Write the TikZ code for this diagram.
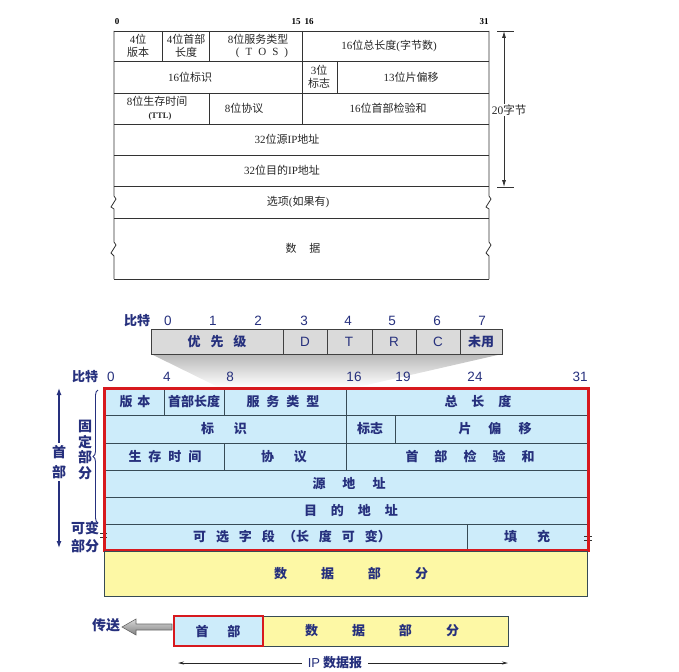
\documentclass[tikz,border=0pt]{standalone}
\usepackage{fontspec}
\setmainfont{Liberation Serif}
\newfontfamily\zhf{Noto Sans CJK SC}
\newfontfamily\arialf{Liberation Sans}
\newcommand\zh[1]{{\zhf #1}}
\newcommand\hs[1]{\hspace{#1pt}}
\usetikzlibrary{decorations.pathreplacing,arrows.meta}
\definecolor{navy}{RGB}{38,48,125}
\definecolor{lblue}{RGB}{205,236,250}
\definecolor{tline}{RGB}{55,75,85}
\definecolor{lyellow}{RGB}{253,248,165}
\definecolor{hred}{RGB}{215,25,30}
\definecolor{gbox}{RGB}{218,218,218}
\tikzset{
  tt/.style={font=\fontsize{11}{12.5}\selectfont, align=center, inner sep=0pt, text=black!85},
  tbit/.style={font=\bfseries\fontsize{9}{10}\selectfont, inner sep=0pt},
  tl/.style={line width=0.8pt, black!80},
  bt/.style={font=\zhf\bfseries\fontsize{13}{15}\selectfont, text=navy, inner sep=0pt},
  bbit/.style={font=\arialf\fontsize{13.5}{15}\selectfont, text=navy, inner sep=0pt},
  bl/.style={line width=0.8pt, tline},
}
\begin{document}
\begin{tikzpicture}[x=1pt,y=-1pt]
\useasboundingbox (0,0) rectangle (679,671);
% ================= TOP DIAGRAM =================
\node[tbit] (b0) at (117,22) {0};
\node[tbit] (b15) at (296,22) {15};
\node[tbit] (b16) at (309,22) {16};
\node[tbit] (b31) at (484,22) {31};
% horizontal lines
\foreach \yy in {31,61,93,124,155,186,218,279} \draw[tl] (114,\yy) -- (489,\yy);
% outer verticals with break marks
\draw[tl] (114,31) -- (114,196) -- (116,199) -- (111,207) -- (114,209) -- (114,242) -- (116,245) -- (111,253) -- (114,256) -- (114,279);
\draw[tl] (489,31) -- (489,196) -- (491,199) -- (486,207) -- (489,209) -- (489,242) -- (491,245) -- (486,253) -- (489,256) -- (489,279);
% inner verticals
\draw[tl] (162,31) -- (162,61);
\draw[tl] (209,31) -- (209,61);
\draw[tl] (302,31) -- (302,124);
\draw[tl] (337,61) -- (337,93);
\draw[tl] (209,93) -- (209,124);
% texts
\node[tt] (t1) at (138,46) {4\zh{位}\\\zh{版本}};
\node[tt] (t2) at (186,46) {4\zh{位首部}\\\zh{长度}};
\node[tt] (t3) at (258,46) {8\zh{位服务类型}\\\hs{8}(\hs{6}T\hs{6}O\hs{6}S\hs{6})};
\node[tt] (t4) at (389,46) {16\zh{位总长度}(\zh{字节数})};
\node[tt] (t5) at (190,77) {16\zh{位标识}};
\node[tt] (t6) at (319,77) {3\zh{位}\\\zh{标志}};
\node[tt] (t7) at (411,77) {13\zh{位片偏移}};
\node[tt] (t8) at (157,108) {8\zh{位生存时间}\\\hs{6}\bfseries\fontsize{8.5}{10}\selectfont(TTL)};
\node[tt] (t9) at (244,108) {8\zh{位协议}};
\node[tt] (t10) at (388,108) {16\zh{位首部检验和}};
\node[tt] (t11) at (287,139) {32\zh{位源}IP\zh{地址}};
\node[tt] (t12) at (282,170) {32\zh{位目的}IP\zh{地址}};
\node[tt] (t13) at (298,202) {\zh{选项}(\zh{如果有})};
\node[tt] (t14) at (303,248) {\zh{数}\hs{13}\zh{据}};
% 20 bytes dimension
\coordinate (d1) at (504,31);
\coordinate (d2) at (504,187);
\draw[tl] (497,31) -- (514,31);
\draw[tl] (497,187) -- (514,187);
\draw[tl, {Latex[length=7pt,width=4pt]}-{Latex[length=7pt,width=4pt]}] (d1) -- (d2);
\node[tt, fill=white, inner sep=1pt, font=\fontsize{11.5}{13}\selectfont] (t20) at (509,110) {20\zh{字节}};
% ================= BOTTOM DIAGRAM =================
% TOS bit row
\node[bt] (bit1) at (137,321) {比特};
\foreach \xx/\lab in {168/0,213/1,258/2,304/3,348/4,392/5,437/6,482/7}
  \node[bbit] at (\xx,321) {\lab};
% shadow
\shade[top color=black!28, bottom color=white] (151,354) -- (502,354) -- (358,387) -- (218,387) -- cycle;
% gray box
\draw[line width=0.8pt, black!75, fill=gbox] (151,329) rectangle (502,354);
\foreach \xx in {283,327,372,416,460} \draw[line width=0.8pt, black!75] (\xx,329) -- (\xx,354);
\node[bt] (p1) at (217,341.5) {优\hs{10}先\hs{10}级};
\node[bbit] (p2) at (305,341.5) {D};
\node[bbit] (p3) at (349,341.5) {T};
\node[bbit] (p4) at (394,341.5) {R};
\node[bbit] (p5) at (438,341.5) {C};
\node[bt] (p6) at (481,341.5) {未用};
% main bit row
\node[bt] (bit2) at (85,377) {比特};
\foreach \xx/\lab in {111/0,167/4,230/8,354/16,403/19,475/24,580/31}
  \node[bbit] at (\xx,377) {\lab};
% blue table
\fill[lblue] (104,388) rectangle (588,550);
\foreach \yy in {415,443,470,497,524} \draw[bl] (104,\yy) -- (588,\yy);
\draw[bl] (164,388) -- (164,415);
\draw[bl] (224,388) -- (224,415);
\draw[bl] (346,388) -- (346,470);
\draw[bl] (395,415) -- (395,443);
\draw[bl] (224,443) -- (224,470);
\draw[bl] (467,524) -- (467,550);
% row texts
\node[bt] (r1a) at (135,401.5) {版\hs{5}本};
\node[bt] (r1b) at (194,401.5) {首部长度};
\node[bt] (r1c) at (283,401.5) {服\hs{7}务\hs{7}类\hs{7}型};
\node[bt] (r1d) at (478,401.5) {总\hs{14}长\hs{14}度};
\node[bt] (r2a) at (224,429) {标\hs{20}识};
\node[bt] (r2b) at (370,429) {标志};
\node[bt] (r2c) at (495,429) {片\hs{17}偏\hs{17}移};
\node[bt] (r3a) at (165,456.5) {生\hs{7}存\hs{7}时\hs{7}间};
\node[bt] (r3b) at (284,456.5) {协\hs{20}议};
\node[bt] (r3c) at (470,456.5) {首\hs{16}部\hs{16}检\hs{16}验\hs{16}和};
\node[bt] (r4) at (349,483.5) {源\hs{17}地\hs{17}址};
\node[bt] (r5) at (351,510.5) {目\hs{14}的\hs{14}地\hs{14}址};
\node[bt] (r6a) at (292,537) {可\hs{10}选\hs{10}字\hs{10}段\hs{8}（长\hs{10}度\hs{10}可\hs{10}变）};
\node[bt] (r6b) at (527,537) {填\hs{20}充};
% break marks
\draw[line width=0.8pt, black!80] (100,533) -- (107,533) (100,537) -- (107,537);
\draw[line width=0.8pt, black!80] (584,536) -- (592,536) (584,540) -- (592,540);
% red box
\draw[line width=3pt, hred] (104,388) rectangle (588,550);
% yellow data
\draw[line width=0.8pt, tline, fill=lyellow] (104,551.5) rectangle (587,596);
\node[bt] (data1) at (351,574) {数\hs{34}据\hs{34}部\hs{34}分};
% left annotations
\coordinate (h1) at (59,388);
\coordinate (h2) at (59,548);
\draw[line width=1.2pt, navy, {Latex[length=7pt,width=5pt]}-{Latex[length=7pt,width=5pt]}] (h1) -- (h2);
\node[bt, fill=white, align=center, inner sep=2pt, font=\zhf\bfseries\fontsize{14}{20}\selectfont] (hdr) at (59,462) {首\\部};
\node[bt, align=center, font=\zhf\bfseries\fontsize{14}{15.5}\selectfont] (fix) at (85,450) {固\\定\\部\\分};
\node[bt, align=center, font=\zhf\bfseries\fontsize{14}{18}\selectfont] (var) at (85,537) {可变\\部分};
\coordinate (br1) at (98,390);
\coordinate (br2) at (98,523);
\draw[line width=0.9pt, navy, decorate, decoration={brace, amplitude=5pt}] (br2) -- (br1);
% bottom datagram
\draw[line width=0.8pt, tline, fill=lyellow] (174,616) rectangle (508,646);
\draw[line width=2.2pt, hred, fill=lblue] (174,616) rectangle (263,646);
\node[bt] (dh) at (218,631) {首\hs{19}部};
\node[bt] (dd) at (382,631) {数\hs{34}据\hs{34}部\hs{34}分};
% send arrow
\shade[top color=black!15, bottom color=black!50, draw=black!60, line width=0.6pt]
  (172,624) -- (136,624) -- (136,619) -- (122,627) -- (136,635) -- (136,630) -- (172,630) -- cycle;
\node[bt, font=\zhf\bfseries\fontsize{14}{15}\selectfont] (send) at (106,625) {传送};
% IP datagram length
\coordinate (l1) at (178,663);
\coordinate (l2) at (508,663);
\draw[line width=0.8pt, black!85, {Stealth[length=6pt,width=3pt]}-{Stealth[length=6pt,width=3pt]}] (l1) -- (l2);
\node[bt, fill=white, inner xsep=6pt, inner ysep=1pt] (ipd) at (335,663) {{\arialf\mdseries IP} 数据报};
\end{tikzpicture}
\end{document}
